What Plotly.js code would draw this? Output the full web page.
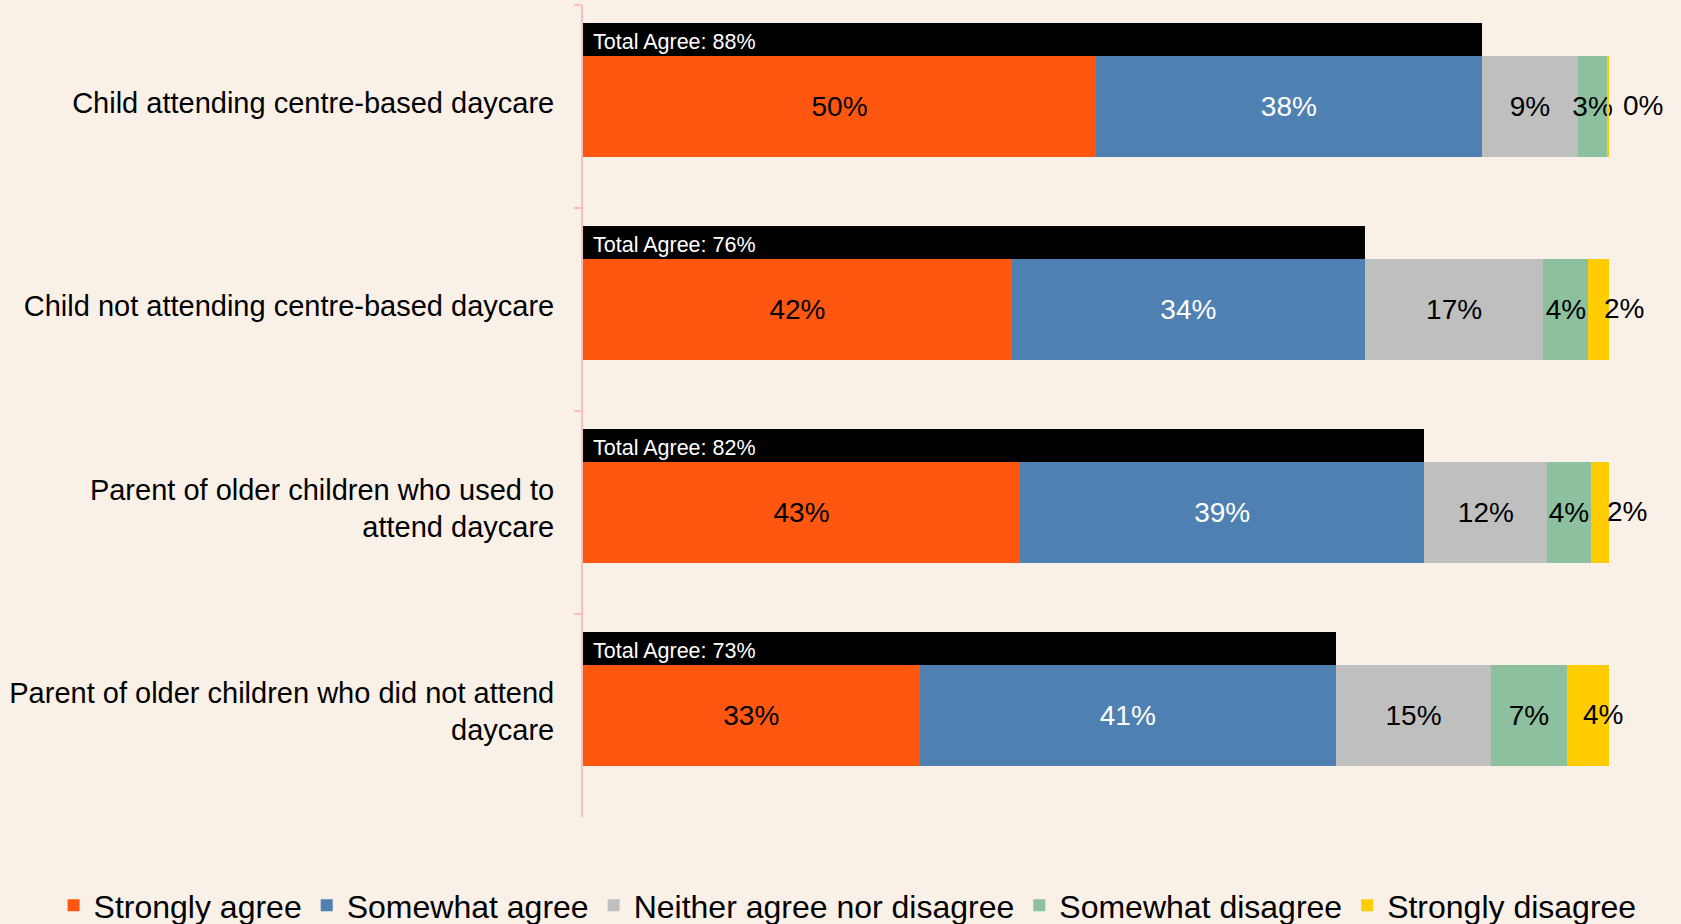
<!DOCTYPE html>
<html>
<head>
<meta charset="utf-8">
<script src="https://cdn.plot.ly/plotly-3.0.1.min.js"></script>
<style>
  html, body { margin: 0; padding: 0; background: #F9F1E8; }
  #chart { width: 1681px; height: 924px; }
</style>
</head>
<body>
<div id="chart"></div>
<script>
// ---- data ----
const categories = [
  "Child attending centre-based daycare",
  "Child not attending centre-based daycare",
  "Parent of older children who used to<br>attend daycare",
  "Parent of older children who did not attend<br>daycare"
];
const seriesNames = ["Strongly agree", "Somewhat agree", "Neither agree nor disagree", "Somewhat disagree", "Strongly disagree"];
const stronglyAgree    = [50.0, 41.8, 42.6, 32.8];
const somewhatAgree    = [37.6, 34.4, 39.4, 40.6];
const neither          = [9.4, 17.4, 12.0, 15.1];
const somewhatDisagree = [2.8, 4.4, 4.2, 7.4];
const stronglyDisagree = [0.2, 2.0, 1.8, 4.1];
const totalAgree = stronglyAgree.map((v, i) => v + somewhatAgree[i]);

// ---- styles ----
const colors = ["#FF570F", "#4E81B2", "#BFBFBF", "#8DC09E", "#FFCC00"];
const textColors = ["#000000", "#FFFFFF", "#000000", "#000000", "#000000"];
const FONT = "Liberation Sans, Arial, sans-serif";
const seriesValues = [stronglyAgree, somewhatAgree, neither, somewhatDisagree, stronglyDisagree];

const traces = seriesValues.map((vals, k) => ({
  type: "bar",
  orientation: "h",
  name: seriesNames[k],
  y: categories,
  x: vals,
  marker: { color: colors[k], line: { width: 0 } },
  text: k === 4 ? null : vals.map(v => Math.round(v) + "%"),
  textposition: k === 4 ? "none" : "inside",
  insidetextanchor: "middle",
  textangle: 0,
  constraintext: "none",
  cliponaxis: false,
  textfont: { family: FONT, size: 28, color: textColors[k] },
  insidetextfont: { family: FONT, size: 28, color: textColors[k] },
  hoverinfo: "skip",
  xaxis: "x",
  yaxis: "y"
}));

// total-agree black bars on an overlaid axis
traces.push({
  type: "bar",
  orientation: "h",
  y: categories,
  x: totalAgree,
  offset: -0.413,
  width: 0.163,
  marker: { color: "#000000", line: { width: 0 } },
  showlegend: false,
  hoverinfo: "skip",
  xaxis: "x",
  yaxis: "y2"
});

const annotations = [];
categories.forEach((c, i) => {
  annotations.push({
    xref: "x", yref: "y2", x: 0, y: i,
    xanchor: "left", yanchor: "middle",
    xshift: 8, yshift: 65,
    text: "Total Agree: " + Math.round(totalAgree[i]) + "%",
    showarrow: false,
    font: { family: FONT, size: 21.5, color: "#FFFFFF" }
  });
  const start = stronglyAgree[i] + somewhatAgree[i] + neither[i] + somewhatDisagree[i];
  annotations.push({
    xref: "x", yref: "y", x: start, y: i,
    xanchor: "left", yanchor: "middle",
    xshift: 14, yshift: 1,
    text: Math.round(stronglyDisagree[i]) + "%",
    showarrow: false,
    font: { family: FONT, size: 28, color: "#000000" }
  });
});

const pink = "#FDBDBA";
const layout = {
  width: 1681,
  height: 924,
  paper_bgcolor: "#F9F1E8",
  plot_bgcolor: "#F9F1E8",
  margin: { l: 583, r: 72, t: 5, b: 107, autoexpand: false },
  barmode: "stack",
  bargap: 0.5,
  showlegend: true,
  font: { family: FONT, color: "#000000" },
  xaxis: {
    range: [0, 100],
    visible: false,
    fixedrange: true
  },
  yaxis: {
    type: "category",
    categoryorder: "array",
    categoryarray: categories,
    range: [3.5, -0.5],
    showline: true,
    linecolor: pink,
    linewidth: 2,
    ticks: "outside",
    tickson: "boundaries",
    ticklen: 7,
    tickwidth: 2,
    tickcolor: pink,
    showgrid: false,
    zeroline: false,
    ticklabelstandoff: 21,
    ticklabelshift: 4,
    tickfont: { family: FONT, size: 29, color: "#000000" },
    fixedrange: true
  },
  yaxis2: {
    type: "category",
    categoryorder: "array",
    categoryarray: categories,
    range: [3.5, -0.5],
    overlaying: "y",
    visible: false,
    fixedrange: true
  },
  legend: {
    orientation: "h",
    x: -0.516,
    xanchor: "left",
    y: -0.109,
    yanchor: "middle",
    traceorder: "normal",
    font: { family: FONT, size: 32, color: "#000000" },
    bgcolor: "rgba(0,0,0,0)"
  },
  annotations: annotations
};

Plotly.newPlot("chart", traces, layout, { displayModeBar: false, staticPlot: true });
</script>
</body>
</html>
